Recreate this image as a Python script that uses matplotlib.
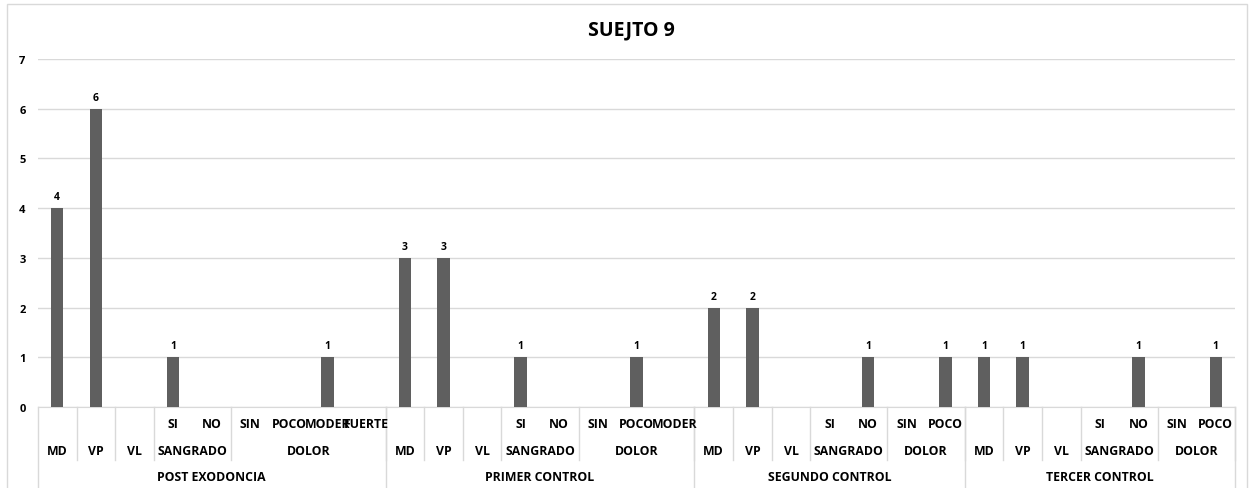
import matplotlib
matplotlib.use("Agg")
import matplotlib.pyplot as plt
from matplotlib.patches import Rectangle

plt.rcParams['font.family'] = ['Open Sans', 'DejaVu Sans']

groups = ["POST EXODONCIA", "PRIMER CONTROL", "SEGUNDO CONTROL", "TERCER CONTROL"]
# per group: list of (mid label, [sub labels]) ; empty sub list => leaf
group_structure = [
    [("MD", []), ("VP", []), ("VL", []), ("SANGRADO", ["SI", "NO"]), ("DOLOR", ["SIN", "POCO", "MODER", "FUERTE"])],
    [("MD", []), ("VP", []), ("VL", []), ("SANGRADO", ["SI", "NO"]), ("DOLOR", ["SIN", "POCO", "MODER"])],
    [("MD", []), ("VP", []), ("VL", []), ("SANGRADO", ["SI", "NO"]), ("DOLOR", ["SIN", "POCO"])],
    [("MD", []), ("VP", []), ("VL", []), ("SANGRADO", ["SI", "NO"]), ("DOLOR", ["SIN", "POCO"])],
]
values = [
    4, 6, None, 1, None, None, None, 1, None,
    3, 3, None, 1, None, None, 1, None,
    2, 2, None, None, 1, None, 1,
    1, 1, None, None, 1, None, 1,
]
title = "SUEJTO 9"
bar_color = "#5f5f5f"
grid_color = "#d9d9d9"

W, H = 1250, 489
fig = plt.figure(figsize=(W / 100, H / 100), dpi=100)
ax = fig.add_axes([38 / W, 1 - 408 / H, (1235 - 38) / W, (408 - 60) / H])

n = len(values)
xs = list(range(n))
heights = [v if v is not None else 0 for v in values]
ax.bar(xs, heights, width=0.32, color=bar_color, zorder=3)
for x, v in zip(xs, values):
    if v is not None:
        ax.text(x, v + 0.12, str(v), ha='center', va='bottom', fontsize=7.5, fontweight='bold', color='#000000')

ax.set_xlim(-0.5, n - 0.5)
ax.set_ylim(0, 7)
ax.set_yticks(range(0, 8))
ax.set_yticklabels([str(i) for i in range(0, 8)], fontsize=8, fontweight='bold')
ax.tick_params(axis='y', length=0, pad=9)
ax.set_xticks([])
ax.grid(axis='y', color=grid_color, linewidth=1, zorder=0)
for s in ['top', 'right', 'left']:
    ax.spines[s].set_visible(False)
ax.spines['bottom'].set_color(grid_color)

tr = ax.get_xaxis_transform()
axh = 408 - 60
y_sub = -(425 - 408) / axh
y_mid = -(452 - 408) / axh
y_grp = -(478 - 408) / axh
y_short = -(461 - 408) / axh
y_long = -(489 - 408) / axh
lab_kw = dict(fontsize=8.8, fontweight='bold', ha='center', va='center', transform=tr, clip_on=False)

pos = 0
ax.plot([pos - 0.5, pos - 0.5], [0, y_long], color=grid_color, lw=1, transform=tr, clip_on=False)
for g, struct in zip(groups, group_structure):
    gstart = pos
    for mid, subs in struct:
        if not subs:
            ax.text(pos, y_mid, mid, **lab_kw)
            pos += 1
        else:
            mstart = pos
            for s in subs:
                ax.text(pos, y_sub, s, **lab_kw)
                pos += 1
            ax.text((mstart + pos - 1) / 2, y_mid, mid, **lab_kw)
        ax.plot([pos - 0.5, pos - 0.5], [0, y_short], color=grid_color, lw=1, transform=tr, clip_on=False)
    ax.text((gstart + pos - 1) / 2, y_grp, g, **lab_kw)
    ax.plot([pos - 0.5, pos - 0.5], [0, y_long], color=grid_color, lw=1, transform=tr, clip_on=False)

fig.text(631 / W, 1 - 30 / H, title, ha='center', va='center', fontsize=14, fontweight='bold')

fig.patches.append(Rectangle((7 / W, -0.02), (1247 - 7) / W, 1 - 5 / H + 0.02, transform=fig.transFigure,
                             fill=False, edgecolor=grid_color, lw=1))

fig.savefig("out.png", dpi=100)
